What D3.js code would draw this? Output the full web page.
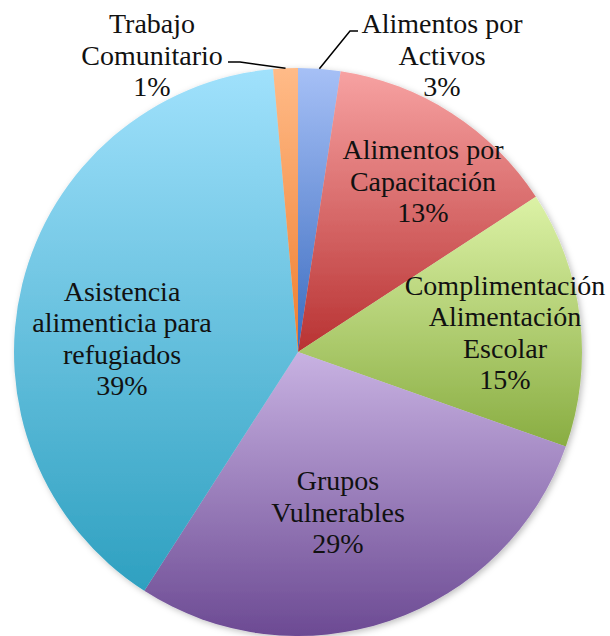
<!DOCTYPE html>
<html>
<head>
<meta charset="utf-8">
<script src="https://d3js.org/d3.v7.min.js"></script>
<style>
  body { margin: 0; background: #fff; }
  text.lbl { font-family: "Liberation Serif", serif; font-size: 28px; fill: #111; }
</style>
</head>
<body>
<div id="chart"></div>
<script>
// slice names (one array per label line) and values, clockwise from 12 o'clock
const labels = [
  ["Alimentos por", "Activos"],
  ["Alimentos por", "Capacitación"],
  ["Complimentación", "Alimentación", "Escolar"],
  ["Grupos", "Vulnerables"],
  ["Asistencia", "alimenticia para", "refugiados"],
  ["Trabajo", "Comunitario"]
];
const values = [2.4, 13.4, 14.6, 28.7, 39.5, 1.4];
const pctLabels = ["3%", "13%", "15%", "29%", "39%", "1%"];
// gradient colors per slice: top, bottom
const topColors = ["#a6c0f6", "#f7a2a2", "#dcf2a6", "#c8b2e2", "#a0e1fc", "#ffbb88"];
const botColors = ["#3a6bbf", "#b83232", "#89ad42", "#6c4a93", "#2ea0c0", "#ef7d2e"];

const W = 610, H = 636;
const cx = 298, cy = 352, R = 284;

const svg = d3.select("#chart").append("svg")
  .attr("width", W).attr("height", H);

const defs = svg.append("defs");
values.forEach((v, i) => {
  const g = defs.append("linearGradient")
    .attr("id", "grad" + i)
    .attr("x1", 0).attr("y1", 0).attr("x2", 0).attr("y2", 1);
  g.append("stop").attr("offset", "0%").attr("stop-color", topColors[i]);
  g.append("stop").attr("offset", "100%").attr("stop-color", botColors[i]);
});
const shadow = defs.append("filter").attr("id", "shadow")
  .attr("x", "-10%").attr("y", "-10%").attr("width", "120%").attr("height", "120%");
shadow.append("feDropShadow")
  .attr("dx", 2).attr("dy", 2).attr("stdDeviation", 3)
  .attr("flood-color", "#000").attr("flood-opacity", 0.25);

const pie = d3.pie().sort(null).value(d => d);
const arcs = pie(values);
const arc = d3.arc().innerRadius(0).outerRadius(R);

const g = svg.append("g").attr("transform", `translate(${cx},${cy})`);
g.append("g").attr("filter", "url(#shadow)")
  .selectAll("path")
  .data(arcs)
  .enter().append("path")
  .attr("d", arc)
  .attr("fill", (d, i) => `url(#grad${i})`);

// label centers (relative to pie center)
const labelPos = [
  [144, -297],
  [125, -171],
  [207, -20],
  [40, 160],
  [-176, -14],
  [-146, -297]
];
const lineH = 31.5;

arcs.forEach((d, i) => {
  const lines = labels[i].concat([pctLabels[i]]);
  const [lx, ly] = labelPos[i];
  const startY = ly - (lines.length - 1) * lineH / 2;
  const t = g.append("text").attr("class", "lbl").attr("text-anchor", "middle");
  lines.forEach((ln, k) => {
    t.append("tspan").attr("x", lx).attr("y", startY + k * lineH).attr("dy", "0.35em").text(ln);
  });
});

// leader lines for the two small slices
const lead = d3.line();
const a0 = (arcs[0].startAngle + arcs[0].endAngle) / 2;
g.append("path")
  .attr("d", lead([[Math.sin(a0) * R, -Math.cos(a0) * R], [52, -321], [60, -321]]))
  .attr("fill", "none").attr("stroke", "#000").attr("stroke-width", 1.5);
const a5 = (arcs[5].startAngle + arcs[5].endAngle) / 2;
g.append("path")
  .attr("d", lead([[Math.sin(a5) * R, -Math.cos(a5) * R], [-58, -290], [-70, -290]]))
  .attr("fill", "none").attr("stroke", "#000").attr("stroke-width", 1.5);
</script>
</body>
</html>
